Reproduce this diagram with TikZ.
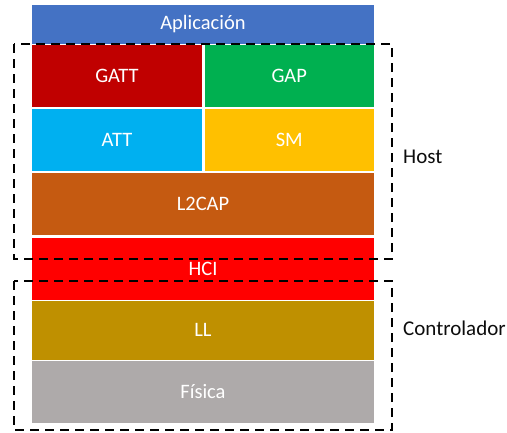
\documentclass[tikz,border=0pt]{standalone}
\usepackage{fontspec}
\setmainfont{Carlito}
\definecolor{appblue}{HTML}{4472C4}
\definecolor{gattred}{HTML}{C00000}
\definecolor{gapgreen}{HTML}{00B050}
\definecolor{attblue}{HTML}{00B0F0}
\definecolor{smyellow}{HTML}{FFC000}
\definecolor{ltwocap}{HTML}{C55A11}
\definecolor{hcired}{HTML}{FF0000}
\definecolor{llgold}{HTML}{BF9000}
\definecolor{phygray}{HTML}{AEAAAA}
\definecolor{labeltext}{HTML}{0D0D0D}
\tikzset{
  layer/.style={rectangle, inner sep=0pt, outer sep=0pt, text=white,
    font=\fontsize{20.5}{24}\selectfont},
  wide/.style={layer, minimum width=342pt},
  half/.style={layer, minimum width=170pt, minimum height=62pt},
  groupbox/.style={draw=black, line width=2.75pt, dash pattern=on 9pt off 6pt},
  grouplabel/.style={anchor=west, inner sep=0pt, text=labeltext,
    font=\fontsize{21}{25}\selectfont}
}
\begin{document}
\begin{tikzpicture}[x=1pt, y=-1pt]
  \useasboundingbox (0,0) rectangle (507,432);
  \fill[white] (0,0) rectangle (507,432);

  % protocol stack layers
  \node[wide, fill=appblue, minimum height=38.5pt] (app) at (203,24.25) {Aplicación};
  \node[half, fill=gattred] (gatt) at (117,76) {GATT};
  \node[half, fill=gapgreen, minimum width=169.5pt] (gap) at (289.25,76) {GAP};
  \node[half, fill=attblue] (att) at (117,140) {ATT};
  \node[half, fill=smyellow, minimum width=169.5pt] (sm) at (289.25,140) {SM};
  \node[wide, fill=ltwocap, minimum height=62.5pt] (l2cap) at (203,203.75) {L2CAP};
  \node[wide, fill=hcired, minimum height=62pt] (hci) at (203,268.5) {HCI};
  \node[wide, fill=llgold, minimum height=58.5pt] (ll) at (203,330.25) {LL};
  \node[wide, fill=phygray, minimum height=62pt] (phy) at (203,392) {Física};

  % host and controller groupings
  \draw[groupbox] (14,44) rectangle (392,259);
  \draw[groupbox] (14,281) rectangle (392,430);
  \node[grouplabel] (host) at (403,157) {Host};
  \node[grouplabel] (ctrl) at (403,328) {Controlador};
\end{tikzpicture}
\end{document}
